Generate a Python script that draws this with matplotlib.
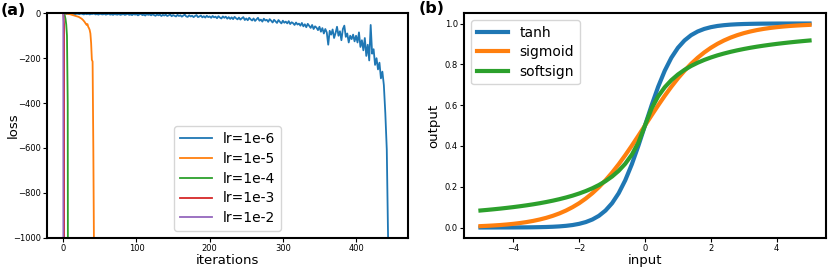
import numpy as np
import matplotlib
matplotlib.use("Agg")
import matplotlib.pyplot as plt

# ---------------- Panel (a) data: loss vs iterations ----------------
lr_labels = ["lr=1e-6", "lr=1e-5", "lr=1e-4", "lr=1e-3", "lr=1e-2"]

# lr=1e-6, sampled every 2 iterations
loss_1e6 = [
    0, -1, -3, -1, -4, -2, -1, -3, -4, -2,
    -2, -4, -1, -3, -5, -2, -4, -2, -5, -3,
    -3, -1, -5, -3, -6, -2, -4, -5, -2, -6,
    -4, -2, -6, -4, -7, -3, -5, -6, -3, -7,
    -5, -3, -7, -5, -2, -7, -5, -8, -3, -6,
    -4, -9, -5, -2, -8, -6, -10, -3, -7, -5,
    -9, -4, -8, -11, -5, -9, -6, -12, -7, -10,
    -6, -12, -9, -5, -13, -8, -11, -14, -7, -12,
    -9, -15, -10, -6, -14, -16, -9, -14, -11, -17,
    -12, -8, -17, -14, -10, -18, -13, -19, -11, -17,
    -14, -20, -12, -18, -15, -22, -13, -19, -23, -14,
    -20, -15, -24, -17, -25, -18, -26, -16, -22, -27,
    -19, -28, -22, -17, -30, -23, -31, -20, -27, -32,
    -23, -34, -27, -20, -33, -28, -37, -24, -32, -29,
    -38, -26, -33, -41, -29, -36, -43, -30, -38, -45,
    -33, -42, -37, -45, -35, -48, -40, -44, -52, -41,
    -50, -46, -55, -43, -58, -49, -62, -47, -56, -65,
    -52, -70, -58, -64, -75, -60, -82, -66, -90, -70,
    -85, -140, -78, -95, -72, -110, -88, -60, -100, -80,
    -120, -70, -55, -105, -90, -130, -100, -115, -95, -125,
    -100, -130, -85, -150, -120, -165, -110, -190, -140, -210,
    -52, -180, -160, -230, -200, -250, -220, -290, -260, -320,
    -445, -607, -1050, -9000,
]
# lr=1e-5, every iteration
loss_1e5 = [
    0, 0, 0, -1, -1, -2, -2, -3, -3, -4,
    -5, -6, -7, -8, -9, -10, -11, -12, -13, -14,
    -15, -16, -18, -20, -22, -24, -27, -30, -34, -38,
    -43, -48, -52, -48, -60, -66, -74, -90, -133, -207,
    -215, -600, -1100, -3000,
]
# lr=1e-4, lr=1e-3, lr=1e-2
loss_1e4 = [0, -3, -10, -25, -50, -100, -400, -3000]
loss_1e3 = [0, -50, -20000]
loss_1e2 = [0, -20000]

# ---------------- Panel (b) data: activation functions ----------------
act_labels = ["tanh", "sigmoid", "softsign"]
x_input = [
    -5.0, -4.8, -4.6, -4.4, -4.2, -4.0, -3.8, -3.6, -3.4, -3.2,
    -3.0, -2.8, -2.6, -2.4, -2.2, -2.0, -1.8, -1.6, -1.4, -1.2,
    -1.0, -0.8, -0.6, -0.4, -0.2, 0.0, 0.2, 0.4, 0.6, 0.8,
    1.0, 1.2, 1.4, 1.6, 1.8, 2.0, 2.2, 2.4, 2.6, 2.8,
    3.0, 3.2, 3.4, 3.6, 3.8, 4.0, 4.2, 4.4, 4.6, 4.8, 5.0,
]
y_tanh = [
    0.0000, 0.0001, 0.0001, 0.0002, 0.0002, 0.0003, 0.0005, 0.0007, 0.0011, 0.0017,
    0.0025, 0.0037, 0.0055, 0.0082, 0.0121, 0.0180, 0.0266, 0.0392, 0.0573, 0.0832,
    0.1192, 0.1680, 0.2315, 0.3100, 0.4013, 0.5000, 0.5987, 0.6900, 0.7685, 0.8320,
    0.8808, 0.9168, 0.9427, 0.9608, 0.9734, 0.9820, 0.9879, 0.9918, 0.9945, 0.9963,
    0.9975, 0.9983, 0.9989, 0.9993, 0.9995, 0.9997, 0.9998, 0.9998, 0.9999, 0.9999, 1.0000,
]
y_sigmoid = [
    0.0067, 0.0082, 0.0100, 0.0121, 0.0148, 0.0180, 0.0219, 0.0266, 0.0323, 0.0392,
    0.0474, 0.0573, 0.0691, 0.0832, 0.0998, 0.1192, 0.1419, 0.1680, 0.1978, 0.2315,
    0.2689, 0.3100, 0.3543, 0.4013, 0.4502, 0.5000, 0.5498, 0.5987, 0.6457, 0.6900,
    0.7311, 0.7685, 0.8022, 0.8320, 0.8581, 0.8808, 0.9002, 0.9168, 0.9309, 0.9427,
    0.9526, 0.9608, 0.9677, 0.9734, 0.9781, 0.9820, 0.9852, 0.9879, 0.9900, 0.9918, 0.9933,
]
y_softsign = [
    0.0833, 0.0862, 0.0893, 0.0926, 0.0962, 0.1000, 0.1042, 0.1087, 0.1136, 0.1190,
    0.1250, 0.1316, 0.1389, 0.1471, 0.1562, 0.1667, 0.1786, 0.1923, 0.2083, 0.2273,
    0.2500, 0.2778, 0.3125, 0.3571, 0.4167, 0.5000, 0.5833, 0.6429, 0.6875, 0.7222,
    0.7500, 0.7727, 0.7917, 0.8077, 0.8214, 0.8333, 0.8438, 0.8529, 0.8611, 0.8684,
    0.8750, 0.8810, 0.8864, 0.8913, 0.8958, 0.9000, 0.9038, 0.9074, 0.9107, 0.9138, 0.9167,
]

# ---------------- Figure ----------------
plt.rcParams["font.family"] = ["DejaVu Sans"]
fig = plt.figure(figsize=(8.3, 2.7), dpi=100)
W, H = 830, 270
axA = fig.add_axes([47 / W, 1 - 237.7 / H, (408 - 47) / W, (237.7 - 13.3) / H])
axB = fig.add_axes([464 / W, 1 - 237.7 / H, (826 - 464) / W, (237.7 - 13.3) / H])

colors = ["#1f77b4", "#ff7f0e", "#2ca02c", "#d62728", "#9467bd"]
series_a = [
    (np.arange(0, 2 * len(loss_1e6), 2), loss_1e6),
    (np.arange(len(loss_1e5)), loss_1e5),
    (np.arange(len(loss_1e4)), loss_1e4),
    (np.arange(len(loss_1e3)), loss_1e3),
    (np.arange(len(loss_1e2)), loss_1e2),
]
for (xs, ys), lab, c in zip(series_a, lr_labels, colors):
    axA.plot(xs, ys, color=c, lw=1.3, label=lab)
axA.set_xlim(-22.3, 471)
axA.set_ylim(-1000, 0)
axA.set_xticks([0, 100, 200, 300, 400])
axA.set_yticks([0, -200, -400, -600, -800, -1000])
axA.set_xlabel("iterations", fontsize=9.5, labelpad=1)
axA.set_ylabel("loss", fontsize=9.5)
axA.yaxis.set_label_coords(-0.075, 0.5)
axA.legend(loc="lower center", fontsize=10, handlelength=2.3,
           labelspacing=0.42, borderaxespad=0.5)

lw_b = 3
for ys, lab, c in zip([y_tanh, y_sigmoid, y_softsign], act_labels, colors):
    axB.plot(x_input, ys, color=c, lw=lw_b, label=lab)
axB.set_xlim(-5.5, 5.5)
axB.set_ylim(-0.05, 1.05)
axB.set_xticks([-4, -2, 0, 2, 4])
axB.set_yticks([0.0, 0.2, 0.4, 0.6, 0.8, 1.0])
axB.set_xlabel("input", fontsize=9.5, labelpad=1)
axB.set_ylabel("output", fontsize=9.5)
axB.yaxis.set_label_coords(-0.066, 0.5)
axB.legend(loc="upper left", fontsize=10, handlelength=2.3,
           labelspacing=0.4, borderaxespad=0.5)

for ax in (axA, axB):
    for s in ax.spines.values():
        s.set_linewidth(1.5)
    ax.tick_params(labelsize=6, length=3, width=0.8, pad=1.5)

fig.text(1 / W, 1 - 3 / H, "(a)", fontsize=11.5, fontweight="bold", va="top", ha="left")
fig.text(419 / W, 1 - 1 / H, "(b)", fontsize=11.5, fontweight="bold", va="top", ha="left")

fig.savefig("out.png", dpi=100)
